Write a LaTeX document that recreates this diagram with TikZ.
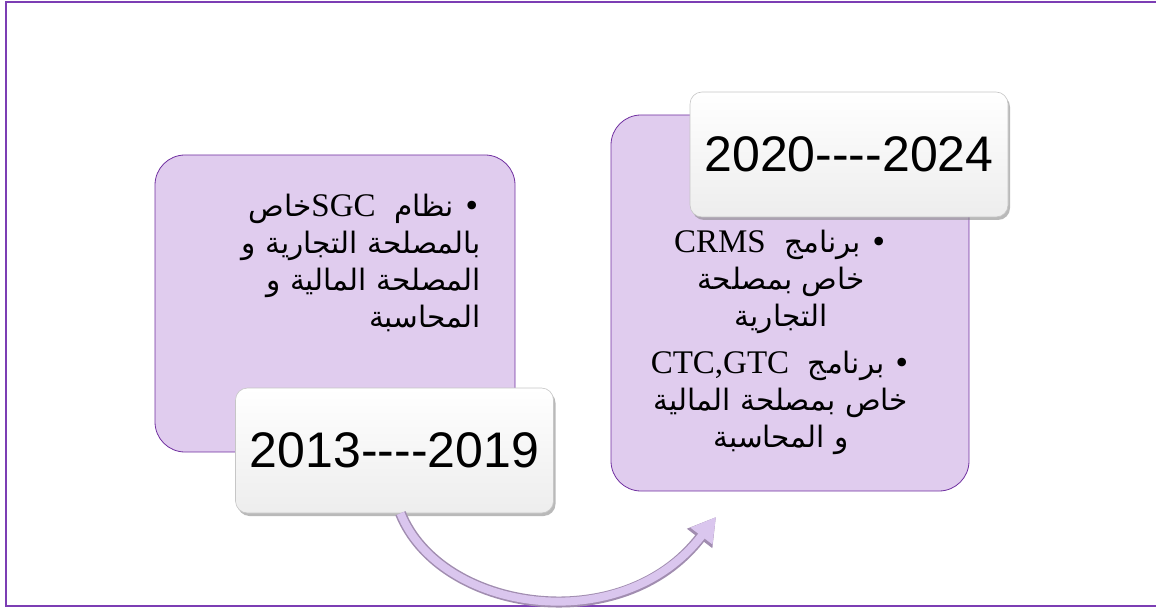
\documentclass[tikz,border=0pt]{standalone}
\usepackage{fontspec}
\setmainfont{Liberation Serif}
\newfontfamily\arabicfont[Script=Arabic]{DejaVu Sans}
\newfontfamily\datefont{Liberation Sans}
\TeXXeTstate=1
\usetikzlibrary{positioning,shadows,arrows.meta}
\definecolor{lavender}{RGB}{224,204,238}
\definecolor{plum}{RGB}{112,48,160}
\definecolor{framepurple}{RGB}{124,62,180}
\definecolor{arrowlilac}{RGB}{218,198,238}
\newcommand{\lat}[1]{{\rmfamily\fontsize{33}{37}\selectfont #1}}
\tikzset{
  phase/.style={draw=plum, fill=lavender, rounded corners=30pt, line width=0.8pt},
  datebox/.style={rounded corners=12pt, top color=white, bottom color=gray!14,
    draw=gray!45, line width=0.6pt,
    drop shadow={shadow xshift=2pt, shadow yshift=-3pt, opacity=0.55},
    minimum width=318pt, minimum height=125pt,
    font=\datefont\fontsize{50}{60}\selectfont},
  arabtext/.style={font=\arabicfont\fontsize{29.5}{37}\selectfont, inner sep=0pt},
}

\begin{document}
\begin{tikzpicture}[x=1pt, y=-1pt]
    \useasboundingbox (0,0) rectangle (1156,612);
    % frame
    \draw[framepurple, line width=2pt] (1156,2) -- (6,2) -- (6,606) -- (1156,606);

    % first phase
    \node[phase, minimum width=360pt, minimum height=297pt] (oldbox) at (335,303.5) {};
    \node[arabtext, align=right, anchor=north east] (oldtext) at (481,194)
        {\beginR • نظام~~\lat{SGC}خاص\endR\\
         \beginR بالمصلحة التجارية و\endR\\
         \beginR المصلحة المالية و\endR\\
         \beginR المحاسبة\endR};
    \node[datebox] (olddate) at (394.5,450.5) {2013----2019};

    % second phase
    \node[phase, minimum width=358pt, minimum height=376pt] (newbox) at (790,303) {};
    \node[arabtext, align=center, anchor=north] (newtext) at (781,230)
        {\beginR • برنامج~~\lat{CRMS}\endR\\
         \beginR خاص بمصلحة\endR\\
         \beginR التجارية\endR\\[10pt]
         \beginR • برنامج~~\lat{CTC,GTC}\endR\\
         \beginR خاص بمصلحة المالية\endR\\
         \beginR و المحاسبة\endR};
    \node[datebox] (newdate) at (849,154.5) {2020----2024};

    % curved arrow
    \coordinate (tip) at (716,517);
    \draw[plum!45!gray!70, line width=11pt, -{Triangle[length=27pt,width=30pt]}]
        ([xshift=6pt]olddate.south) .. controls (440,612) and (622,640) .. (tip);
    \draw[arrowlilac, line width=8pt, -{Triangle[length=24pt,width=26pt]}]
        ([xshift=6pt]olddate.south) .. controls (440,612) and (622,640) .. (tip);
\end{tikzpicture}
\end{document}
